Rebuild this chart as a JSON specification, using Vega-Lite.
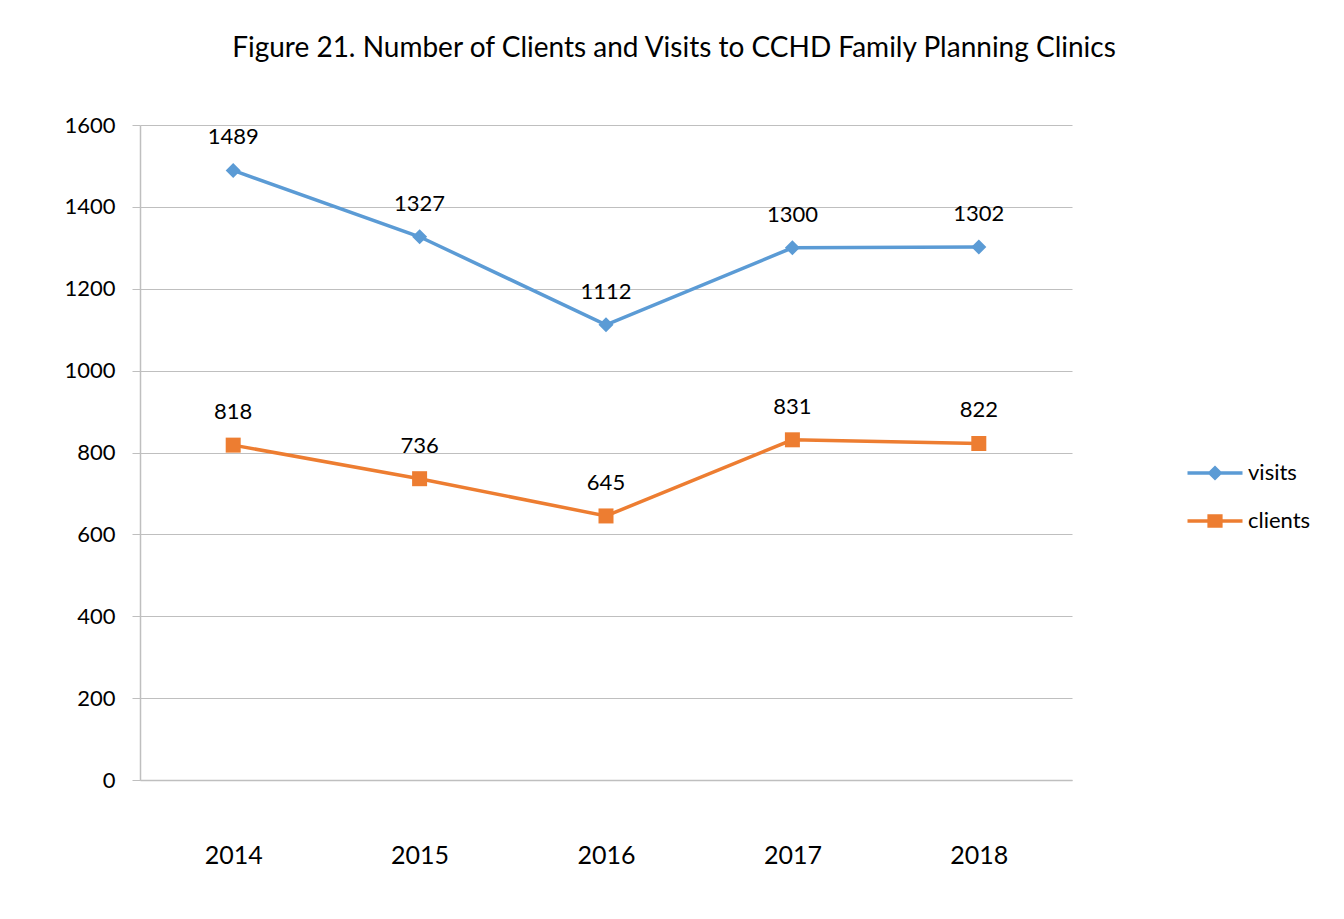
{
  "$schema": "https://vega.github.io/schema/vega-lite/v6.json",
  "width": 932,
  "height": 655,
  "autosize": {"type": "none"},
  "padding": {"left": 140, "top": 125, "right": 272, "bottom": 139},
  "background": "white",
  "config": {"view": {"stroke": null}},
  "title": {
    "text": "Figure 21. Number of Clients and Visits to CCHD Family Planning Clinics",
    "font": "Lato",
    "fontSize": 28,
    "fontWeight": "normal",
    "color": "#000000",
    "anchor": "middle",
    "frame": "group",
    "dx": 68,
    "baseline": "alphabetic",
    "offset": 29
  },
  "data": {
    "values": [
      {"year": "2014", "series": "visits", "value": 1489},
      {"year": "2015", "series": "visits", "value": 1327},
      {"year": "2016", "series": "visits", "value": 1112},
      {"year": "2017", "series": "visits", "value": 1300},
      {"year": "2018", "series": "visits", "value": 1302},
      {"year": "2014", "series": "clients", "value": 818},
      {"year": "2015", "series": "clients", "value": 736},
      {"year": "2016", "series": "clients", "value": 645},
      {"year": "2017", "series": "clients", "value": 831},
      {"year": "2018", "series": "clients", "value": 822}
    ]
  },
  "encoding": {
    "x": {
      "field": "year",
      "type": "ordinal",
      "scale": {"type": "point", "padding": 0.5},
      "axis": {
        "title": null,
        "labelAngle": 0,
        "ticks": false,
        "grid": false,
        "domainColor": "#BFBFBF",
        "domainWidth": 1.5,
        "labelFont": "Lato",
        "labelFontSize": 25,
        "labelColor": "#000000",
        "labelPadding": 83,
        "labelBaseline": "alphabetic"
      }
    },
    "y": {
      "field": "value",
      "type": "quantitative",
      "scale": {"domain": [0, 1600], "nice": false},
      "axis": {
        "title": null,
        "format": "d",
        "values": [0, 200, 400, 600, 800, 1000, 1200, 1400, 1600],
        "grid": true,
        "gridColor": "#BFBFBF",
        "gridWidth": 1,
        "domainColor": "#BFBFBF",
        "domainWidth": 1.5,
        "tickColor": "#BFBFBF",
        "tickSize": 8,
        "labelFont": "Lato",
        "labelFontSize": 22,
        "labelColor": "#000000",
        "labelPadding": 17
      }
    }
  },
  "layer": [
    {
      "mark": {"type": "line", "strokeWidth": 3.5},
      "encoding": {
        "color": {
          "field": "series",
          "type": "nominal",
          "scale": {"domain": ["visits", "clients"], "range": ["#5B9BD5", "#ED7D31"]},
          "legend": null
        }
      }
    },
    {
      "mark": {"type": "point", "filled": true, "opacity": 1, "size": 225},
      "encoding": {
        "color": {
          "field": "series",
          "type": "nominal",
          "scale": {"domain": ["visits", "clients"], "range": ["#5B9BD5", "#ED7D31"]},
          "legend": null
        },
        "shape": {
          "field": "series",
          "type": "nominal",
          "scale": {"domain": ["visits", "clients"], "range": ["diamond", "square"]},
          "legend": null
        }
      }
    },
    {
      "mark": {"type": "text", "font": "Lato", "fontSize": 22, "color": "#000000", "dy": -26, "baseline": "alphabetic"},
      "encoding": {
        "text": {"field": "value", "type": "quantitative", "format": "d"}
      }
    },
    {
      "transform": [{"filter": "false"}],
      "mark": {"type": "point", "filled": true, "opacity": 1, "size": 1600},
      "encoding": {
        "color": {
          "field": "series",
          "type": "nominal",
          "scale": {"domain": ["visits", "clients"], "range": ["#5B9BD5", "#ED7D31"]},
          "legend": {
            "title": null,
            "orient": "none",
            "legendX": 1054,
            "legendY": 327,
            "labelFont": "Lato",
            "labelFontSize": 22,
            "labelColor": "#000000",
            "labelOffset": 12,
            "rowPadding": 16,
            "symbolSize": 1600,
            "symbolOpacity": 1
          }
        },
        "shape": {
          "field": "series",
          "type": "nominal",
          "scale": {
            "domain": ["visits", "clients"],
            "range": [
              "M-1.375,-0.09H1.375V0.09H-1.375Z M0,-0.38L0.38,0L0,0.38L-0.38,0Z",
              "M-1.375,-0.09H1.375V0.09H-1.375Z M-0.38,-0.34H0.38V0.34H-0.38Z"
            ]
          },
          "legend": {
            "title": null,
            "orient": "none",
            "legendX": 1054,
            "legendY": 327,
            "labelFont": "Lato",
            "labelFontSize": 22,
            "labelColor": "#000000",
            "labelOffset": 12,
            "rowPadding": 16,
            "symbolSize": 1600,
            "symbolOpacity": 1
          }
        }
      }
    }
  ],
  "resolve": {"scale": {"shape": "independent", "color": "independent"}}
}
